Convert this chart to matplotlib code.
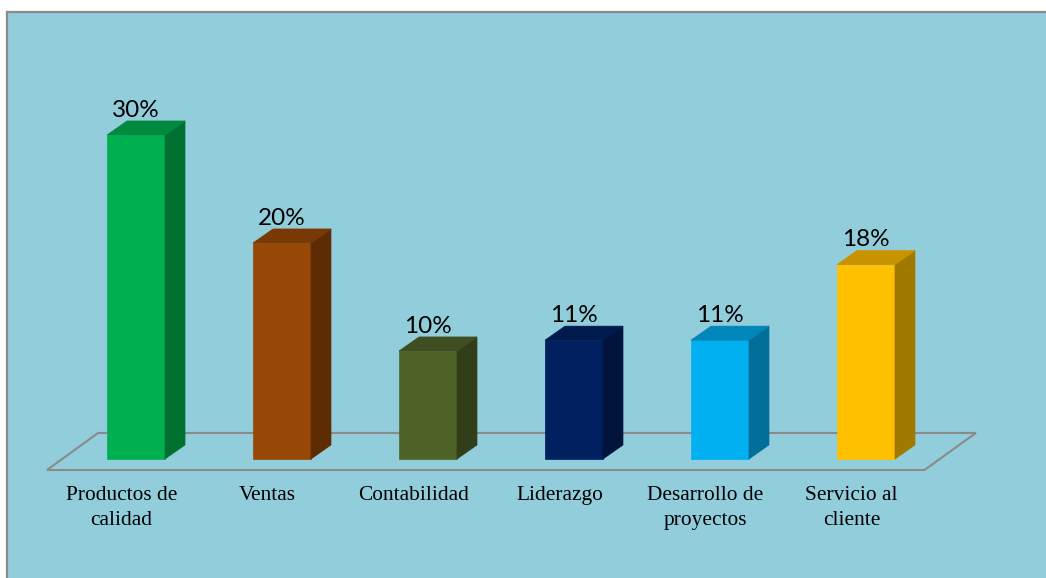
import matplotlib.pyplot as plt
from matplotlib.patches import Polygon, Rectangle

categorias = ["Productos de\ncalidad", "Ventas", "Contabilidad", "Liderazgo",
              "Desarrollo de\nproyectos", "Servicio al\ncliente"]
valores = [30, 20, 10, 11, 11, 18]
etiquetas = ["30%", "20%", "10%", "11%", "11%", "18%"]

frente = ["#00B050", "#974706", "#4F6228", "#002060", "#00B0F0", "#FFC000"]
lado = ["#007030", "#5E2C04", "#323E19", "#00143C", "#006E98", "#A07A00"]
tapa = ["#008A3E", "#793905", "#3F4E20", "#001A4D", "#0086B8", "#C79400"]

fondo = "#92CDDC"
gris = "#8A8A8A"

# perspectiva de las barras (en unidades de datos)
ancho = 0.397
dx = 0.137
dy = 1.3

fig = plt.figure(figsize=(10.46, 5.78), dpi=100)
fig.patch.set_facecolor("white")
ax = fig.add_axes([7 / 1046, 0, 1 - 7 / 1046, 566 / 578])
ax.set_facecolor(fondo)
ax.set_xlim(-0.8836, 6.2329)
ax.set_ylim(-11.019, 41.389)
ax.set_xticks([])
ax.set_yticks([])
for s in ["right", "bottom"]:
    ax.spines[s].set_visible(False)
for s in ["top", "left"]:
    ax.spines[s].set_color(gris)
    ax.spines[s].set_linewidth(1.6)

# piso
piso = Polygon([(-0.61, -1.02), (5.40, -1.02), (5.753, 2.41), (-0.26, 2.41)],
               closed=True, fill=False, edgecolor=gris, linewidth=1.5, zorder=1)
ax.add_patch(piso)

for i, v in enumerate(valores):
    x0 = i - ancho / 2
    x1 = i + ancho / 2
    ax.add_patch(Rectangle((x0, 0), ancho, v, facecolor=frente[i],
                           edgecolor=frente[i], linewidth=0.5, zorder=3))
    ax.add_patch(Polygon([(x1, 0), (x1 + dx, dy), (x1 + dx, v + dy), (x1, v)],
                         closed=True, facecolor=lado[i], edgecolor=lado[i],
                         linewidth=0.5, zorder=3))
    ax.add_patch(Polygon([(x0, v), (x1, v), (x1 + dx, v + dy), (x0 + dx, v + dy)],
                         closed=True, facecolor=tapa[i], edgecolor=tapa[i],
                         linewidth=0.5, zorder=3))
    ax.annotate(etiquetas[i], (i, v + dy), xytext=(0, 3), textcoords="offset points",
                ha="center", va="baseline", fontsize=17.5, family="Lato",
                color="black", zorder=4)
    ax.text(i - 0.10, -2.5, categorias[i], ha="center", va="top",
            fontsize=15.4, family="Liberation Serif", linespacing=1.42)

fig.savefig("out.png", dpi=100)
